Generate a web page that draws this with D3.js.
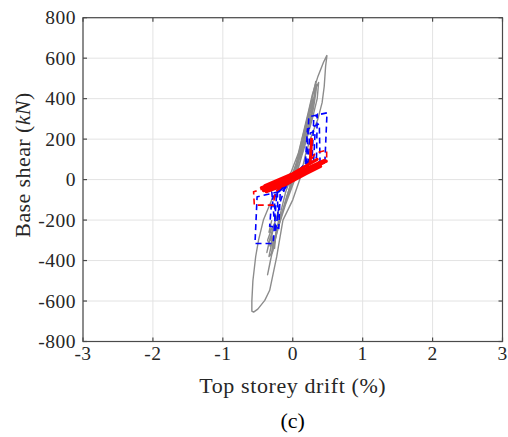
<!DOCTYPE html>
<html>
<head>
<meta charset="utf-8">
<script src="https://cdn.jsdelivr.net/npm/d3@7"></script>
<style>
  html, body { margin: 0; padding: 0; background: #fff; }
  svg { display: block; }
</style>
</head>
<body>
<svg id="chart" width="508" height="437"></svg>
<script>
// ---- data (drift in %, base shear in kN) ----
const xTicks = [-3, -2, -1, 0, 1, 2, 3];
const yTicks = [-800, -600, -400, -200, 0, 200, 400, 600, 800];

// experimental (grey) hysteresis
const grayOuter = [
  [0.49, 615], [0.47, 560], [0.45, 460], [0.42, 380], [0.36, 300], [0.25, 200], [0.18, 120],
  [0.10, 0], [0.0, -100], [-0.14, -200], [-0.19, -300], [-0.23, -382], [-0.28, -465],
  [-0.33, -547], [-0.40, -597], [-0.50, -640], [-0.56, -655], [-0.585, -650],
  [-0.585, -600], [-0.57, -500], [-0.53, -380], [-0.49, -300], [-0.42, -200], [-0.30, -100],
  [-0.12, -20], [-0.02, 40], [0.08, 130], [0.15, 230], [0.22, 330], [0.28, 420],
  [0.36, 510], [0.44, 580], [0.49, 615]
];
const grayInner1 = [
  [0, 0], [0.12, 180], [0.22, 320], [0.30, 440], [0.33, 485], [0.31, 420], [0.26, 300],
  [0.18, 180], [0.05, 20], [-0.10, -120], [-0.20, -230], [-0.27, -320], [-0.31, -380],
  [-0.29, -330], [-0.22, -240], [-0.10, -100], [0.05, 60], [0.17, 220], [0.27, 360],
  [0.34, 460], [0.37, 480], [0.35, 400], [0.28, 300], [0.15, 140], [0.0, -20],
  [-0.15, -170], [-0.26, -300], [-0.33, -420], [-0.36, -470], [-0.32, -400], [-0.22, -250]
];
const grayInner2 = [
  [-0.20, -150], [-0.30, -260], [-0.35, -330], [-0.32, -280], [-0.37, -360], [-0.33, -300],
  [-0.27, -220], [-0.31, -300], [-0.26, -340], [-0.24, -260], [-0.20, -200], [-0.10, -60],
  [0.05, 80], [0.15, 200], [0.20, 270], [0.16, 190], [0.05, 50]
];
const grayInner3 = [
  [0.10, 100], [0.20, 220], [0.28, 330], [0.32, 420], [0.34, 470], [0.33, 430], [0.30, 360],
  [0.24, 260], [0.12, 120]
];
const grayInner4 = [
  [-0.05, -30], [0.08, 110], [0.18, 250], [0.24, 340], [0.29, 400], [0.27, 340], [0.20, 240],
  [0.10, 110], [-0.05, -60], [-0.16, -170], [-0.24, -270], [-0.28, -330], [-0.25, -290],
  [-0.18, -200], [-0.08, -80], [0.05, 70]
];
const grayInner5 = [
  [-0.30, -200], [-0.34, -260], [-0.30, -240], [-0.36, -300], [-0.32, -330], [-0.28, -280],
  [-0.34, -380], [-0.29, -360], [-0.25, -300], [-0.22, -220]
];

// blue dashed model curves
const blue1 = [
  [0, 0], [0.20, 90], [0.23, 310], [0.49, 330], [0.46, 90], [0.20, 50], [-0.20, -60],
  [-0.51, -85], [-0.54, -316], [-0.28, -316], [-0.23, -70], [0, 0]
];
const blue2 = [
  [0, 10], [0.18, 80], [0.21, 250], [0.38, 275], [0.39, 90], [0.10, 30], [-0.25, -70],
  [-0.30, -100], [-0.33, -230], [-0.20, -240], [-0.18, -70], [0, 0]
];
const blue3 = [
  [-0.30, -40], [0.0, 20], [0.30, 100], [0.32, 240], [0.25, 230], [0.22, 90], [-0.05, 0],
  [-0.30, -60], [-0.27, -180], [-0.21, -190], [-0.22, -60], [0.1, 40]
];
const blue4 = [
  [-0.40, -50], [-0.10, -10], [0.15, 50], [0.28, 120], [0.30, 300], [0.35, 320], [0.34, 110],
  [0.05, 30], [-0.20, -40], [-0.26, -90], [-0.25, -260], [-0.19, -120], [-0.10, -30]
];

// red dashed model curves
const redDash1 = [
  [-0.10, -20], [-0.32, -36], [-0.56, -60], [-0.55, -126], [-0.28, -126], [-0.25, -60], [0, 0]
];
const redDash2 = [
  [0.20, 60], [0.32, 130], [0.485, 146], [0.485, 88], [0.30, 70]
];

// red solid model curves
const redSolid1 = [[-0.45, -40], [-0.20, -10], [0.0, 20], [0.20, 55], [0.45, 95]];
const redSolid2 = [[-0.42, -55], [-0.20, -35], [0.0, 0], [0.20, 40], [0.40, 75]];
const redSolid3 = [[-0.40, -30], [0.0, 30], [0.35, 100]];
const redSolid4 = [[-0.35, -50], [0.0, 10], [0.45, 85]];
const redSolid5 = [[0.25, 85], [0.27, 200]];
const redSolid6 = [[-0.42, -45], [-0.10, -5], [0.20, 50], [0.48, 92]];
const redSolid7 = [[-0.38, -60], [-0.10, -25], [0.20, 30], [0.40, 65]];

// ---- layout ----
const svg = d3.select("#chart");
const L = 83, R = 502.5, T = 17.7, B = 341.5;
const x = d3.scaleLinear().domain([-3, 3]).range([L, R]);
const y = d3.scaleLinear().domain([-800, 800]).range([B, T]);

const fontFam = "'Liberation Serif', 'Times New Roman', serif";
const axisColor = "#4a4a4a";

// grid
const grid = svg.append("g");
grid.selectAll("line.gx").data(xTicks).join("line")
  .attr("x1", d => x(d)).attr("x2", d => x(d)).attr("y1", T).attr("y2", B)
  .attr("stroke", "#e3e3e3").attr("stroke-width", 1);
grid.selectAll("line.gy").data(yTicks).join("line")
  .attr("y1", d => y(d)).attr("y2", d => y(d)).attr("x1", L).attr("x2", R)
  .attr("stroke", "#e3e3e3").attr("stroke-width", 1);

// curves
const line = d3.line().x(d => x(d[0])).y(d => y(d[1]));
const clipId = "plotclip";
svg.append("clipPath").attr("id", clipId).append("rect")
  .attr("x", L).attr("y", T).attr("width", R - L).attr("height", B - T);
const plot = svg.append("g").attr("clip-path", `url(#${clipId})`);

[grayOuter, grayInner1, grayInner2, grayInner3, grayInner4, grayInner5].forEach(p => {
  plot.append("path").attr("d", line(p)).attr("fill", "none")
    .attr("stroke", "#8c8c8c").attr("stroke-width", 1.4).attr("stroke-linejoin", "round");
});
[blue1, blue2, blue3, blue4].forEach(p => {
  plot.append("path").attr("d", line(p)).attr("fill", "none")
    .attr("stroke", "#0000ff").attr("stroke-width", 1.6).attr("stroke-dasharray", "6,4");
});
[redDash1, redDash2].forEach(p => {
  plot.append("path").attr("d", line(p)).attr("fill", "none")
    .attr("stroke", "#ff0000").attr("stroke-width", 1.6).attr("stroke-dasharray", "6,4");
});
[redSolid1, redSolid2, redSolid3, redSolid4, redSolid5, redSolid6, redSolid7].forEach(p => {
  plot.append("path").attr("d", line(p)).attr("fill", "none")
    .attr("stroke", "#ff0000").attr("stroke-width", 3).attr("stroke-linecap", "round");
});

// axes box
svg.append("rect").attr("x", L).attr("y", T).attr("width", R - L).attr("height", B - T)
  .attr("fill", "none").attr("stroke", axisColor).attr("stroke-width", 1.2);

// ticks (inward, all sides)
const tl = 4;
const tk = svg.append("g").attr("stroke", axisColor).attr("stroke-width", 1.2);
xTicks.forEach(t => {
  tk.append("line").attr("x1", x(t)).attr("x2", x(t)).attr("y1", B).attr("y2", B - tl);
  tk.append("line").attr("x1", x(t)).attr("x2", x(t)).attr("y1", T).attr("y2", T + tl);
});
yTicks.forEach(t => {
  tk.append("line").attr("y1", y(t)).attr("y2", y(t)).attr("x1", L).attr("x2", L + tl);
  tk.append("line").attr("y1", y(t)).attr("y2", y(t)).attr("x1", R).attr("x2", R - tl);
});

// tick labels
const txtColor = "#262626";
svg.append("g").selectAll("text").data(xTicks).join("text")
  .attr("x", d => x(d)).attr("y", B + 18)
  .attr("text-anchor", "middle").attr("font-family", fontFam).attr("font-size", 19.5)
  .attr("letter-spacing", 0.5)
  .attr("fill", txtColor).text(d => d);
svg.append("g").selectAll("text").data(yTicks).join("text")
  .attr("x", L - 7).attr("y", d => y(d) + 6.5)
  .attr("text-anchor", "end").attr("font-family", fontFam).attr("font-size", 19.5)
  .attr("letter-spacing", 0.5)
  .attr("fill", txtColor).text(d => d);

// axis labels
svg.append("text").attr("x", x(0)).attr("y", 393)
  .attr("text-anchor", "middle").attr("font-family", fontFam).attr("font-size", 22)
  .attr("letter-spacing", 0.6)
  .attr("fill", txtColor).text("Top storey drift (%)");
const yl = svg.append("text").attr("transform", `translate(30,165) rotate(-90)`)
  .attr("text-anchor", "middle").attr("font-family", fontFam).attr("font-size", 22)
  .attr("letter-spacing", 0.4)
  .attr("fill", txtColor);
yl.append("tspan").text("Base shear (");
yl.append("tspan").attr("font-style", "italic").text("kN");
yl.append("tspan").text(")");

svg.append("text").attr("x", x(0)).attr("y", 428)
  .attr("text-anchor", "middle").attr("font-family", fontFam).attr("font-size", 22)
  .attr("fill", "#000").text("(c)");
</script>
</body>
</html>
